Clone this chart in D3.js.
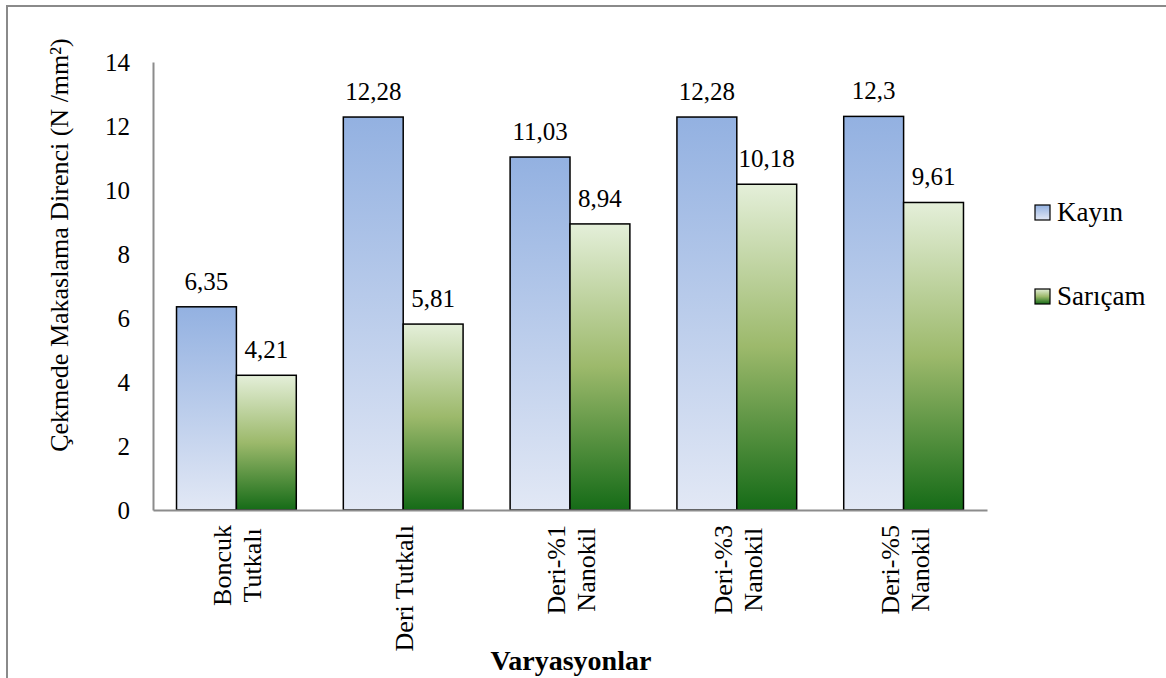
<!DOCTYPE html>
<html>
<head>
<meta charset="utf-8">
<script src="https://cdn.jsdelivr.net/npm/d3@7"></script>
<style>
  html, body { margin: 0; padding: 0; background: #fff; }
  svg text { font-family: "Liberation Serif", "Times New Roman", serif; }
</style>
</head>
<body>
<svg id="chart" width="1166" height="678"></svg>
<script>
// Shear strength per adhesive variation, for two wood species
const categories = [["Boncuk", "Tutkalı"], ["Deri Tutkalı"], ["Deri-%1", "Nanokil"], ["Deri-%3", "Nanokil"], ["Deri-%5", "Nanokil"]];
const seriesNames = ["Kayın", "Sarıçam"];
const kayinValues = [6.35, 12.28, 11.03, 12.28, 12.3];
const saricamValues = [4.21, 5.81, 8.94, 10.18, 9.61];
const valueLabels = [["6,35", "12,28", "11,03", "12,28", "12,3"], ["4,21", "5,81", "8,94", "10,18", "9,61"]];
const yTicks = [0, 2, 4, 6, 8, 10, 12, 14];

const FONT = "'Liberation Serif', 'Times New Roman', serif";
const svg = d3.select("#chart");

// outer frame
svg.append("path")
  .attr("d", "M7,678 V6 H1166")
  .attr("fill", "none").attr("stroke", "#8a8a8a").attr("stroke-width", 2);

const defs = svg.append("defs");
const gK = defs.append("linearGradient").attr("id", "gradKayin").attr("x1", 0).attr("y1", 0).attr("x2", 0).attr("y2", 1);
gK.append("stop").attr("offset", "0%").attr("stop-color", "#93b1e1");
gK.append("stop").attr("offset", "100%").attr("stop-color", "#e2e8f5");
const gS = defs.append("linearGradient").attr("id", "gradSaricam").attr("x1", 0).attr("y1", 0).attr("x2", 0).attr("y2", 1);
gS.append("stop").attr("offset", "0%").attr("stop-color", "#e4efd9");
gS.append("stop").attr("offset", "50%").attr("stop-color", "#9cb96b");
gS.append("stop").attr("offset", "100%").attr("stop-color", "#156b17");
const fills = ["url(#gradKayin)", "url(#gradSaricam)"];

const plot = { left: 153, right: 987, top: 62, bottom: 510 };

const x = d3.scaleBand()
  .domain(d3.range(categories.length))
  .range([plot.left, plot.right])
  .paddingInner(0.282).paddingOuter(0.141);
const xs = d3.scaleBand().domain([0, 1]).range([0, x.bandwidth()]);
const y = d3.scaleLinear().domain([0, 14]).range([plot.bottom, plot.top]);

// y axis: line + labels, no tick marks
const yAxis = svg.append("g").attr("transform", `translate(${plot.left},0)`)
  .call(d3.axisLeft(y).tickValues(yTicks).tickSize(0).tickPadding(23).tickFormat(d3.format("d")));
yAxis.attr("font-family", FONT).attr("font-size", 25);
yAxis.select(".domain").attr("stroke", "#8c8c8c").attr("stroke-width", 2);
yAxis.selectAll("text").attr("fill", "#000");

// bars and value labels
const seriesValues = [kayinValues, saricamValues];
seriesValues.forEach((vals, s) => {
  svg.append("g").selectAll("rect").data(vals).join("rect")
    .attr("x", (d, i) => x(i) + xs(s))
    .attr("y", d => y(d))
    .attr("width", xs.bandwidth())
    .attr("height", d => y(0) - y(d))
    .attr("fill", fills[s])
    .attr("stroke", "#000").attr("stroke-width", 1.5);
  svg.append("g").attr("font-family", FONT).attr("font-size", 25)
    .selectAll("text").data(vals).join("text")
    .attr("x", (d, i) => x(i) + xs(s) + xs.bandwidth() / 2)
    .attr("y", d => y(d) - 17)
    .attr("text-anchor", "middle")
    .text((d, i) => valueLabels[s][i]);
});

// x axis line
const xAxis = svg.append("g").attr("transform", `translate(0,${plot.bottom})`)
  .call(d3.axisBottom(x).tickSize(0).tickFormat(""));
xAxis.select(".domain").attr("stroke", "#8c8c8c").attr("stroke-width", 2);

// rotated category labels, lines centred on each other, top aligned
categories.forEach((lines, i) => {
  const cx = x(i) + x.bandwidth() / 2;
  const g = svg.append("g").attr("transform", `translate(${cx},525) rotate(-90)`)
    .attr("font-family", FONT).attr("font-size", 26);
  const texts = lines.map((t, j) => g.append("text")
    .attr("text-anchor", "middle")
    .attr("y", 10 + (j - (lines.length - 1) / 2) * 30)
    .text(t));
  const maxLen = d3.max(texts, t => t.node().getComputedTextLength());
  texts.forEach(t => t.attr("x", -maxLen / 2));
});

// axis titles
svg.append("text")
  .attr("transform", "translate(68,245) rotate(-90)")
  .attr("text-anchor", "middle")
  .attr("font-family", FONT)
  .attr("font-size", 26)
  .text("Çekmede Makaslama Direnci (N /mm²)");

svg.append("text")
  .attr("x", 571)
  .attr("y", 670)
  .attr("text-anchor", "middle")
  .attr("font-family", FONT)
  .attr("font-size", 28)
  .attr("font-weight", "bold")
  .text("Varyasyonlar");

// legend
const legend = svg.append("g").attr("font-family", FONT).attr("font-size", 27)
  .selectAll("g").data(seriesNames).join("g")
  .attr("transform", (d, i) => `translate(1035,${205 + i * 84})`);
legend.append("rect")
  .attr("width", 15).attr("height", 15)
  .attr("fill", (d, i) => fills[i])
  .attr("stroke", "#000").attr("stroke-width", 1.2);
legend.append("text")
  .attr("x", 22).attr("y", 16)
  .text(d => d);
</script>
</body>
</html>
